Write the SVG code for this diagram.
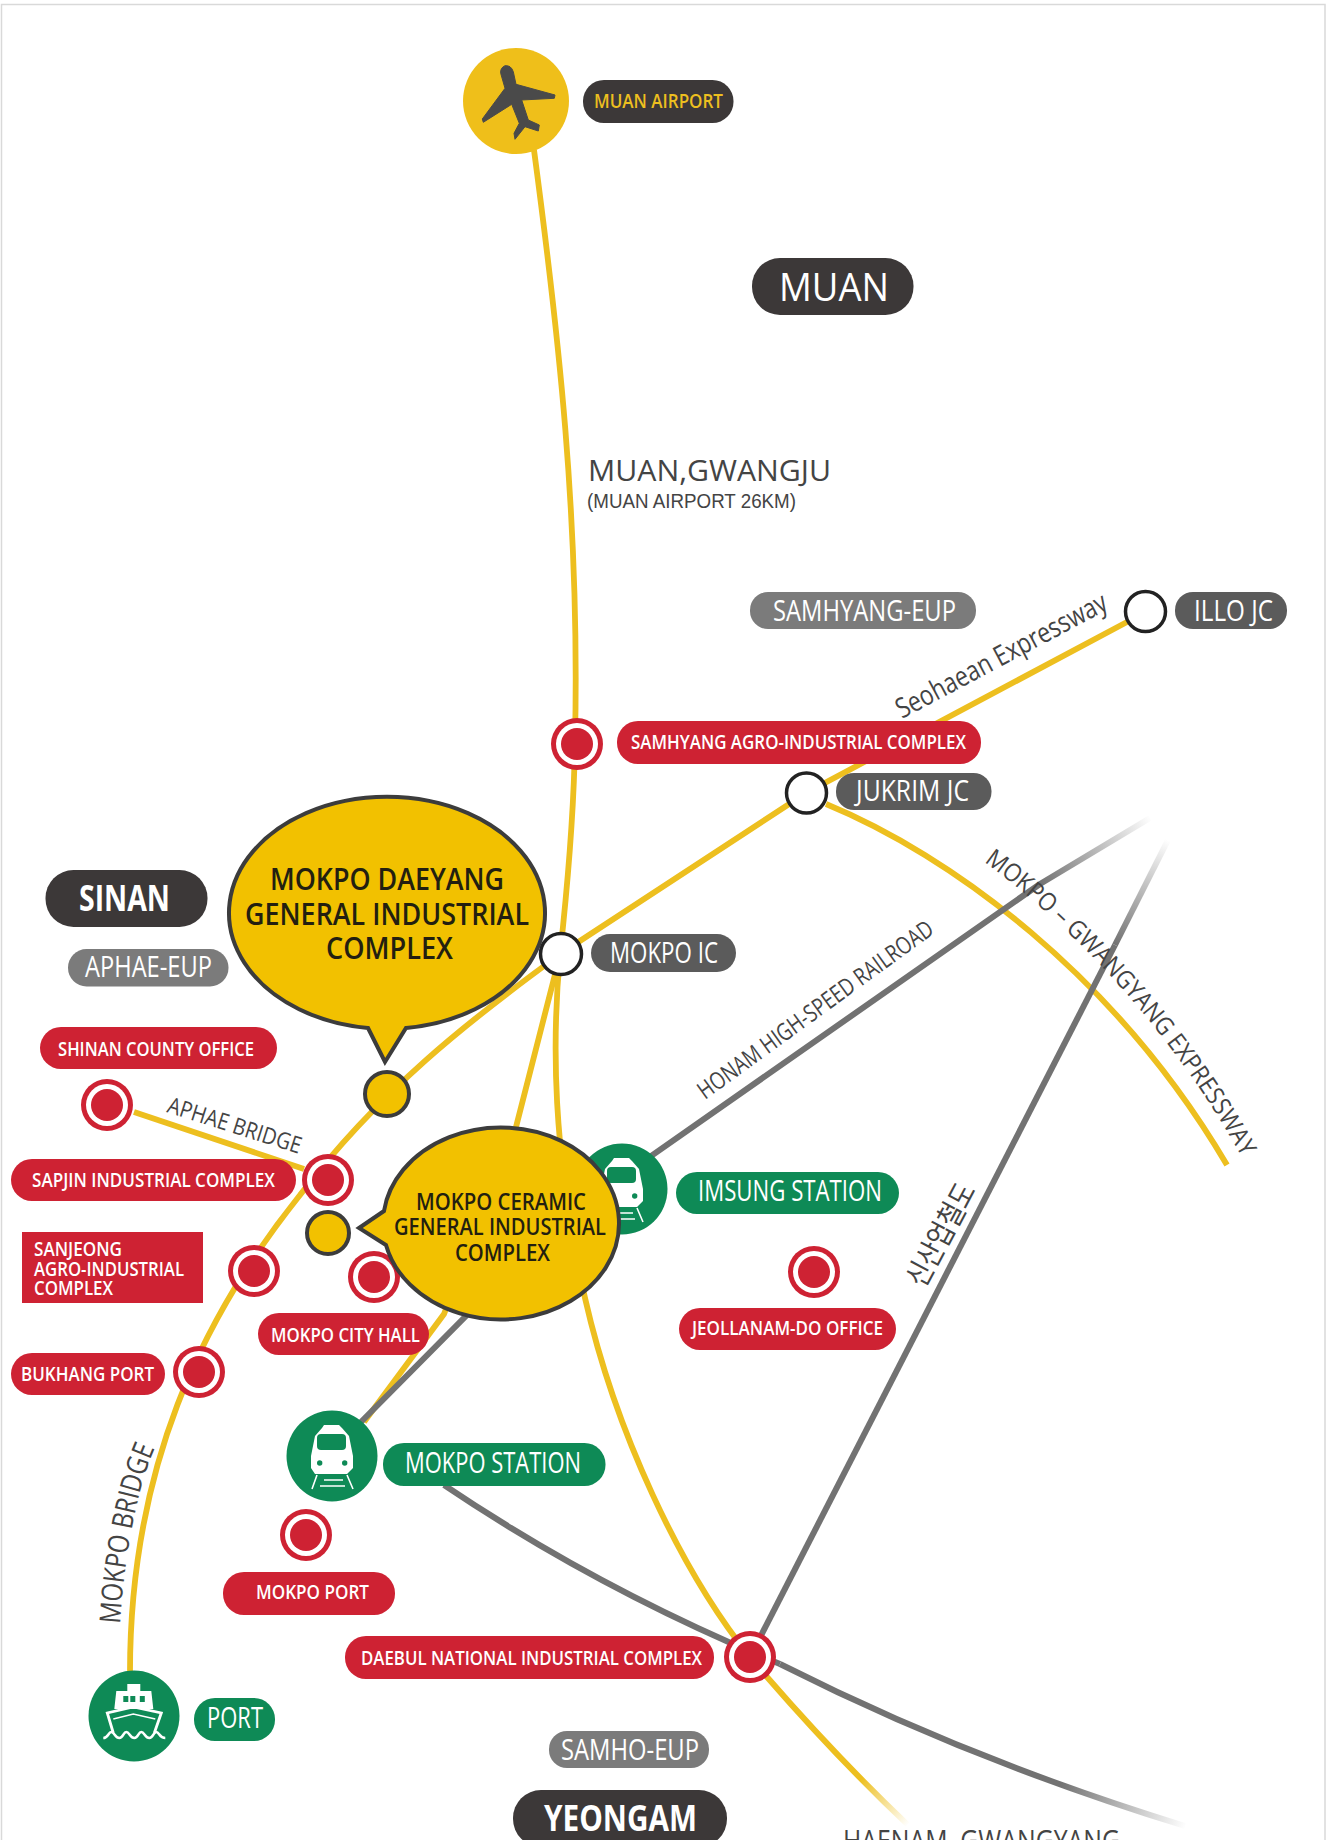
<svg xmlns="http://www.w3.org/2000/svg" xmlns:xlink="http://www.w3.org/1999/xlink" width="1327" height="1840" viewBox="0 0 1327 1840">
<style>
text{font-family:"Open Sans","Noto Sans","Liberation Sans",sans-serif}
.y{fill:none;stroke:#EDBF1F;stroke-width:5.8}
.g{fill:none;stroke:#727272;stroke-width:6}
.red{fill:#CE2233}.green{fill:#0E8A56}.dark{fill:#3C3838}.mid{fill:#5B5B5B}.grey{fill:#7B7B7B}
.w{fill:#fff}
.s{font-size:19.5px;font-weight:600;fill:#fff}
.m{font-size:29px;fill:#fff}
.road{fill:#444;font-weight:400}
.bub{fill:#F2C100;stroke:#3C3C3C;stroke-width:4}
.bt{fill:#231F10;font-weight:600}
.jc{fill:#fff;stroke:#222;stroke-width:3.5}
</style>
<defs>
<linearGradient id="fh" gradientUnits="userSpaceOnUse" x1="1040" y1="884" x2="1150" y2="816"><stop offset="0" stop-color="#727272"/><stop offset="1" stop-color="#727272" stop-opacity="0"/></linearGradient>
<linearGradient id="fs" gradientUnits="userSpaceOnUse" x1="1115" y1="945" x2="1168" y2="840"><stop offset="0" stop-color="#727272"/><stop offset="1" stop-color="#727272" stop-opacity="0"/></linearGradient>
<linearGradient id="fg" gradientUnits="userSpaceOnUse" x1="1060" y1="1785" x2="1185" y2="1830"><stop offset="0" stop-color="#727272"/><stop offset="1" stop-color="#727272" stop-opacity="0"/></linearGradient>
<linearGradient id="fy" gradientUnits="userSpaceOnUse" x1="860" y1="1780" x2="908" y2="1825"><stop offset="0" stop-color="#EDBF1F"/><stop offset="1" stop-color="#EDBF1F" stop-opacity="0"/></linearGradient>
<g id="ring"><circle r="26" class="red"/><circle r="21" class="w"/><circle r="16" class="red"/></g>
<g id="train">
<circle r="45.5" class="green"/>
<path class="w" d="M-8-31H7L10-28 17-20 21 0V12L15 18H-17L-21 12V0L-17-20-10-28Z"/>
<rect x="-15" y="-22" width="29" height="16" rx="4" class="green"/>
<circle cx="-12.3" cy="7" r="2.7" class="green"/><circle cx="12.7" cy="7" r="2.7" class="green"/>
<path fill="none" stroke="#fff" stroke-width="1.6" d="M-15 19-20 33M15 19 21 33M-8 24H11M-12 30H13"/>
</g>
<path id="pMGE" d="M984 862C1061 917 1170 1024 1246 1165"/>
<path id="pMB" d="M120 1624C124 1560 136 1490 155 1448"/>
</defs>
<rect id="frame" x="1.5" y="4.5" width="1323.5" height="1845" fill="#fff" stroke="#D9D9D9" stroke-width="1.5"/>

<g id="connectors">
<path class="y" d="M534 150C558 330 580 520 575 740C574 820 566 900 560 955"/>
<path class="y" d="M560 954L806 793L1127 622"/>
<path class="y" d="M826 804C950 855 1115 975 1227 1165"/>
<path class="y" d="M555 958C470 1020 380 1090 300 1195C200 1320 130 1470 130 1672"/>
<path class="y" d="M134 1112L304 1169"/>
<path class="y" d="M560 955L516 1127L444 1314L364 1422"/>
<path class="y" d="M560 955C552 1040 552 1150 585 1298C615 1430 680 1570 750 1657"/>
<path class="y" style="stroke:url(#fy)" d="M750 1657L767 1677C800 1715 850 1770 908 1825"/>
<path class="g" d="M358 1425L470 1312L651 1156L1040 884"/>
<path class="g" style="stroke:url(#fh)" d="M1040 884L1150 818"/>
<path class="g" d="M750 1657L1115 945"/>
<path class="g" style="stroke:url(#fs)" d="M1115 945L1169 838"/>
<path class="g" d="M444 1485Q600 1590 780 1664"/>
<path class="g" style="stroke:url(#fg)" d="M780 1664Q970 1760 1185 1826"/>
</g>

<g id="road-labels" class="road">
<text x="588" y="481" font-size="30" textLength="243" lengthAdjust="spacingAndGlyphs">MUAN,GWANGJU</text>
<text x="587" y="508" font-size="20" textLength="209" lengthAdjust="spacingAndGlyphs" style="font-family:'Liberation Sans',sans-serif">(MUAN AIRPORT 26KM)</text>
<text transform="translate(902 719) rotate(-28)" font-size="28" textLength="235" lengthAdjust="spacingAndGlyphs">Seohaean Expressway</text>
<text font-size="25"><textPath href="#pMGE" textLength="395" lengthAdjust="spacingAndGlyphs">MOKPO – GWANGYANG EXPRESSWAY</textPath></text>
<text transform="translate(705 1100) rotate(-36)" font-size="24" textLength="285" lengthAdjust="spacingAndGlyphs">HONAM HIGH-SPEED RAILROAD</text>
<text transform="translate(924 1289) rotate(-62)" font-size="30" textLength="112" lengthAdjust="spacingAndGlyphs" style="font-family:'Noto Sans CJK KR',sans-serif">신산업철도</text>
<text transform="translate(166 1112) rotate(17.5)" font-size="23" textLength="139" lengthAdjust="spacingAndGlyphs">APHAE BRIDGE</text>
<text font-size="29"><textPath href="#pMB" textLength="180" lengthAdjust="spacingAndGlyphs">MOKPO BRIDGE</textPath></text>
<text x="843" y="1851" font-size="30" textLength="277" lengthAdjust="spacingAndGlyphs">HAENAM, GWANGYANG</text>
</g>

<g id="muan-airport">
<circle cx="516" cy="101" r="53" fill="#EFBF1A"/>
<path fill="#4A4A4A" stroke="#4A4A4A" stroke-width="1" d="M505 65.700Q511 65 513.300 71.700L516 84.300 555 95 554.300 98.300 521.700 100 528.300 120 539.300 125 538.300 131 525 126.700 515 139.300 514 133.300 519.300 123.300 511.700 104.300 483.300 122.300 482.300 119 505 88.300 500.700 73.300Q500 68 505 65.700Z"/>
<rect x="583" y="80" width="150.500" height="43" rx="21" class="dark"/>
<text x="594" y="108" font-size="19.500" font-weight="600" fill="#EDBF1F" textLength="129" lengthAdjust="spacingAndGlyphs">MUAN AIRPORT</text>
</g>
<g id="muan"><rect x="752" y="258" width="161.500" height="57" rx="28" class="dark"/><text x="779" y="301" font-size="39" fill="#fff" textLength="110" lengthAdjust="spacingAndGlyphs">MUAN</text></g>
<g id="samhyang-eup"><rect x="750" y="592" width="226" height="37" rx="18" class="grey"/><text x="773" y="621" class="m" textLength="183" lengthAdjust="spacingAndGlyphs">SAMHYANG-EUP</text></g>
<g id="illo-jc"><circle cx="1145.500" cy="611.500" r="20" class="jc"/><rect x="1175" y="592" width="112" height="37" rx="18" class="mid"/><text x="1194" y="621" class="m" textLength="79" lengthAdjust="spacingAndGlyphs">ILLO JC</text></g>
<g id="samhyang-complex"><use href="#ring" x="577" y="744"/><rect x="617" y="721" width="364" height="43" rx="21" class="red"/><text x="631" y="749" class="s" textLength="335" lengthAdjust="spacingAndGlyphs">SAMHYANG AGRO-INDUSTRIAL COMPLEX</text></g>
<g id="jukrim-jc"><circle cx="806.500" cy="793" r="20" class="jc"/><rect x="836" y="773" width="155.500" height="37" rx="18" class="mid"/><text x="856" y="801" class="m" textLength="113" lengthAdjust="spacingAndGlyphs">JUKRIM JC</text></g>
<g id="sinan"><rect x="45.500" y="870" width="162" height="57" rx="28" class="dark"/><text x="79" y="911" font-size="35" font-weight="700" fill="#fff" textLength="91" lengthAdjust="spacingAndGlyphs">SINAN</text></g>
<g id="aphae-eup"><rect x="68" y="949" width="160.500" height="37.500" rx="18.500" class="grey"/><text x="85" y="977" class="m" textLength="127" lengthAdjust="spacingAndGlyphs">APHAE-EUP</text></g>
<g id="shinan-office"><rect x="40" y="1027" width="237" height="42" rx="21" class="red"/><text x="58" y="1056" class="s" textLength="196" lengthAdjust="spacingAndGlyphs">SHINAN COUNTY OFFICE</text><use href="#ring" x="107" y="1105"/></g>
<g id="daeyang-dot"><circle cx="387" cy="1094" r="22" class="bub"/></g>
<g id="sapjin"><rect x="11" y="1159" width="285" height="42" rx="21" class="red"/><text x="32" y="1187" class="s" textLength="243" lengthAdjust="spacingAndGlyphs">SAPJIN INDUSTRIAL COMPLEX</text><use href="#ring" x="328" y="1180"/></g>
<g id="sanjeong"><rect x="22" y="1232" width="181" height="71" class="red"/>
<text x="34" y="1256" class="s" textLength="88" lengthAdjust="spacingAndGlyphs">SANJEONG</text>
<text x="34" y="1275.500" class="s" textLength="150" lengthAdjust="spacingAndGlyphs">AGRO-INDUSTRIAL</text>
<text x="34" y="1295" class="s" textLength="79" lengthAdjust="spacingAndGlyphs">COMPLEX</text>
<use href="#ring" x="254" y="1271"/></g>
<g id="ceramic-dot"><circle cx="328" cy="1233" r="21" class="bub"/></g>
<g id="city-hall"><use href="#ring" x="374" y="1277"/><rect x="258" y="1313" width="171" height="42" rx="21" class="red"/><text x="271" y="1342" class="s" textLength="149" lengthAdjust="spacingAndGlyphs">MOKPO CITY HALL</text></g>
<g id="bukhang"><rect x="11" y="1353" width="154" height="42" rx="21" class="red"/><text x="21" y="1381" class="s" textLength="133" lengthAdjust="spacingAndGlyphs">BUKHANG PORT</text><use href="#ring" x="199" y="1372"/></g>
<g id="imsung"><use href="#train" x="622" y="1189"/><rect x="676" y="1172" width="223" height="42" rx="21" class="green"/><text x="698" y="1201" class="m" textLength="184" lengthAdjust="spacingAndGlyphs">IMSUNG STATION</text></g>
<g id="jeollanam"><use href="#ring" x="814" y="1272"/><rect x="679" y="1308" width="217" height="42" rx="21" class="red"/><text x="692" y="1335" class="s" textLength="191" lengthAdjust="spacingAndGlyphs">JEOLLANAM-DO OFFICE</text></g>
<g id="mokpo-station"><use href="#train" x="332" y="1456"/><rect x="383" y="1443" width="222.500" height="43" rx="21" class="green"/><text x="405" y="1473" class="m" textLength="176" lengthAdjust="spacingAndGlyphs">MOKPO STATION</text></g>
<g id="mokpo-port"><use href="#ring" x="306" y="1535"/><rect x="223" y="1572" width="172" height="43" rx="21" class="red"/><text x="256" y="1599" class="s" textLength="113" lengthAdjust="spacingAndGlyphs">MOKPO PORT</text></g>
<g id="daebul"><rect x="345" y="1636" width="369" height="43" rx="21" class="red"/><text x="361" y="1665" class="s" textLength="341" lengthAdjust="spacingAndGlyphs">DAEBUL NATIONAL INDUSTRIAL COMPLEX</text><use href="#ring" x="750" y="1657"/></g>
<g id="port">
<circle cx="134" cy="1716" r="45.500" class="green"/>
<g transform="translate(133.300 1715)">
<path class="w" d="M-6-31H7V-24H18L20-6H-19L-17-24H-6Z"/>
<rect x="-10" y="-19" width="5" height="6" class="green"/><rect x="-3" y="-19" width="5" height="6" class="green"/><rect x="6.500" y="-19" width="5" height="6" class="green"/>
<path fill="none" stroke="#fff" stroke-width="2.800" d="M-20 18-26-2 0-8 28-2 21 18"/>
<path fill="none" stroke="#fff" stroke-width="1.600" d="M-20 4 0-1 22 4"/>
<path fill="none" stroke="#fff" stroke-width="2.600" d="M-30 23C-25 23-25 17-22 17S-18 23-14 23-10 17-7 17-3 23 1 23 5 17 8 17 12 23 16 23 20 17 23 17 26 23 32 23"/>
</g>
<rect x="194" y="1698" width="81" height="43" rx="21" class="green"/><text x="207" y="1728" class="m" textLength="56" lengthAdjust="spacingAndGlyphs">PORT</text>
</g>
<g id="samho-eup"><rect x="549" y="1731" width="160" height="37" rx="18" class="grey"/><text x="561" y="1760" class="m" textLength="138" lengthAdjust="spacingAndGlyphs">SAMHO-EUP</text></g>
<g id="yeongam"><rect x="513" y="1790" width="214" height="57" rx="28" class="dark"/><text x="544" y="1831" font-size="35" font-weight="700" fill="#fff" textLength="153" lengthAdjust="spacingAndGlyphs">YEONGAM</text></g>

<g id="daeyang-bubble">
<path class="bub" d="M368 1028L385 1062 406 1028A158 116 0 1 0 368 1028Z"/>
<text class="bt" x="270" y="890" font-size="30" textLength="234" lengthAdjust="spacingAndGlyphs">MOKPO DAEYANG</text>
<text class="bt" x="245" y="925" font-size="30" textLength="284" lengthAdjust="spacingAndGlyphs">GENERAL INDUSTRIAL</text>
<text class="bt" x="326" y="959" font-size="30" textLength="127" lengthAdjust="spacingAndGlyphs">COMPLEX</text>
</g>
<g id="mokpo-ic"><circle cx="561" cy="954" r="20.500" class="jc"/><rect x="591" y="934" width="145" height="38" rx="19" class="mid"/><text x="610" y="963" class="m" textLength="108" lengthAdjust="spacingAndGlyphs">MOKPO IC</text></g>
<g id="ceramic-bubble">
<path class="bub" d="M384 1211L359 1228 386 1245A118 96 0 1 0 384 1211Z"/>
<text class="bt" x="416" y="1210" font-size="22.500" textLength="170" lengthAdjust="spacingAndGlyphs">MOKPO CERAMIC</text>
<text class="bt" x="394" y="1235" font-size="22.500" textLength="212" lengthAdjust="spacingAndGlyphs">GENERAL INDUSTRIAL</text>
<text class="bt" x="455" y="1260.500" font-size="22.500" textLength="95" lengthAdjust="spacingAndGlyphs">COMPLEX</text>
</g>
</svg>
